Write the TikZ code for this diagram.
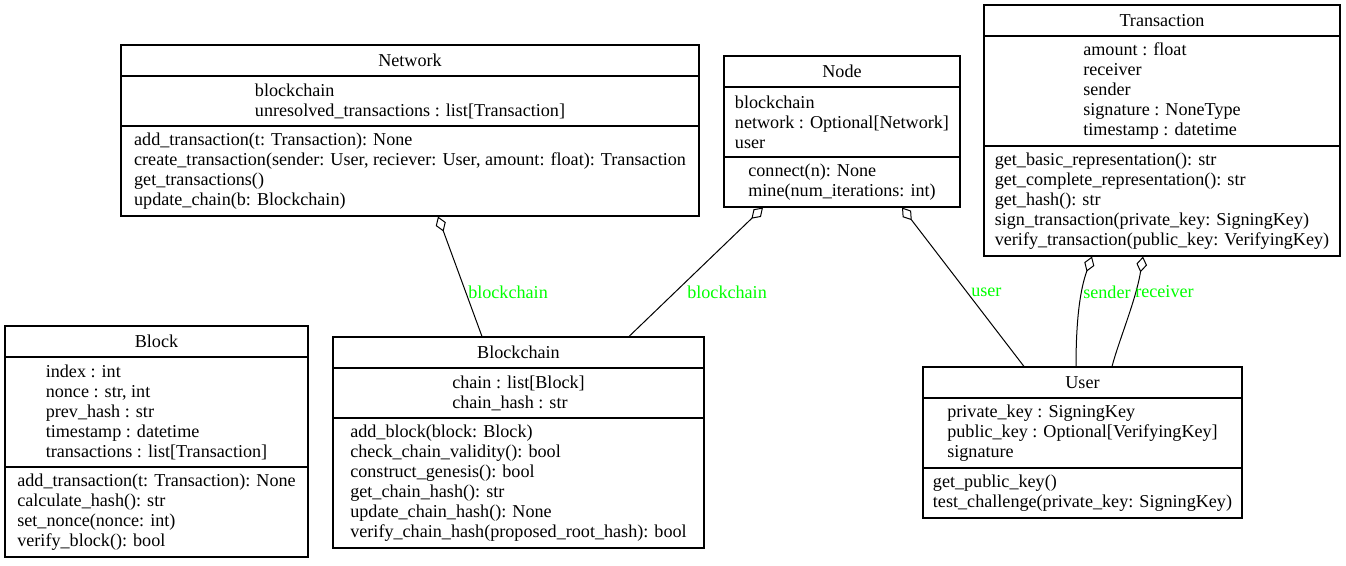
\documentclass[tikz,border=0pt]{standalone}
\usepackage{fontspec}
\setmainfont{Liberation Serif}
\usetikzlibrary{arrows.meta,fit}
\definecolor{lblgreen}{RGB}{0,255,0}
\begin{document}
\begin{tikzpicture}[x=0.75pt,y=-0.75pt,
  cls/.style={draw, inner sep=0pt, line width=0.8pt},
  txt/.style={inner sep=0pt, align=left, font=\fontsize{13.6}{15}\selectfont},
  sepline/.style={line width=0.8pt},
  assoc/.style={line width=0.75pt, {Diamond[open, length=12pt, width=8pt, line width=0.75pt]}-},
  lbl/.style={inner sep=0pt, anchor=west, text=lblgreen, font=\fontsize{13.6}{15}\selectfont}]
\useasboundingbox (0,0) rectangle (1346,565);

% Network
\node[cls, fit={(121,45) (699,216)}] (net) {};
\draw[sepline] (net.west |- 0,76) -- (net.east |- 0,76);
\draw[sepline] (net.west |- 0,126) -- (net.east |- 0,126);
\node[txt] (net-t) at (410,60.5) {Network};
\node[txt] (net-a) at (410,101) {blockchain\\unresolved\_transactions : list[Transaction]};
\node[txt] (net-m) at (410,171) {add\_transaction(t: Transaction): None\\create\_transaction(sender: User, reciever: User, amount: float): Transaction\\get\_transactions()\\update\_chain(b: Blockchain)};

% Node
\node[cls, fit={(724,56) (960,207)}] (nd) {};
\draw[sepline] (nd.west |- 0,87) -- (nd.east |- 0,87);
\draw[sepline] (nd.west |- 0,157) -- (nd.east |- 0,157);
\node[txt] (nd-t) at (842,71.5) {Node};
\node[txt] (nd-a) at (842,122) {blockchain\\network : Optional[Network]\\user};
\node[txt] (nd-m) at (842,182) {connect(n): None\\mine(num\_iterations: int)};

% Transaction
\node[cls, fit={(984,5) (1340,256)}] (tx) {};
\draw[sepline] (tx.west |- 0,36) -- (tx.east |- 0,36);
\draw[sepline] (tx.west |- 0,146) -- (tx.east |- 0,146);
\node[txt] (tx-t) at (1162,20.5) {Transaction};
\node[txt] (tx-a) at (1162,91) {amount : float\\receiver\\sender\\signature : NoneType\\timestamp : datetime};
\node[txt] (tx-m) at (1162,201) {get\_basic\_representation(): str\\get\_complete\_representation(): str\\get\_hash(): str\\sign\_transaction(private\_key: SigningKey)\\verify\_transaction(public\_key: VerifyingKey)};

% Block
\node[cls, fit={(5,326) (308,557)}] (blk) {};
\draw[sepline] (blk.west |- 0,357) -- (blk.east |- 0,357);
\draw[sepline] (blk.west |- 0,467) -- (blk.east |- 0,467);
\node[txt] (blk-t) at (156.5,341.5) {Block};
\node[txt] (blk-a) at (156.5,412) {index : int\\nonce : str, int\\prev\_hash : str\\timestamp : datetime\\transactions : list[Transaction]};
\node[txt] (blk-m) at (156.5,512) {add\_transaction(t: Transaction): None\\calculate\_hash(): str\\set\_nonce(nonce: int)\\verify\_block(): bool};

% Blockchain
\node[cls, fit={(333,337) (704,548)}] (bc) {};
\draw[sepline] (bc.west |- 0,368) -- (bc.east |- 0,368);
\draw[sepline] (bc.west |- 0,418) -- (bc.east |- 0,418);
\node[txt] (bc-t) at (518.5,352.5) {Blockchain};
\node[txt] (bc-a) at (518.5,393) {chain : list[Block]\\chain\_hash : str};
\node[txt] (bc-m) at (518.5,483) {add\_block(block: Block)\\check\_chain\_validity(): bool\\construct\_genesis(): bool\\get\_chain\_hash(): str\\update\_chain\_hash(): None\\verify\_chain\_hash(proposed\_root\_hash): bool};

% User
\node[cls, fit={(923,367) (1242,518)}] (usr) {};
\draw[sepline] (usr.west |- 0,398) -- (usr.east |- 0,398);
\draw[sepline] (usr.west |- 0,468) -- (usr.east |- 0,468);
\node[txt] (usr-t) at (1082.5,382.5) {User};
\node[txt] (usr-a) at (1082.5,433) {private\_key : SigningKey\\public\_key : Optional[VerifyingKey]\\signature};
\node[txt] (usr-m) at (1082.5,493) {get\_public\_key()\\test\_challenge(private\_key: SigningKey)};

% Associations
\draw[assoc] ([xshift=21pt]net.south) -- ([xshift=-27.375pt]bc.north);
\draw[assoc] ([xshift=-59.25pt]nd.south) -- ([xshift=82.875pt]bc.north);
\draw[assoc] ([xshift=45pt]nd.south) -- ([xshift=-43.875pt]usr.north);
\draw[assoc] ([xshift=-52.5pt]tx.south) .. controls (1080,290) and (1076,320) .. ([xshift=-4.875pt]usr.north);
\draw[assoc] ([xshift=-14.25pt]tx.south) .. controls (1136,300) and (1119,340) .. ([xshift=22.125pt]usr.north);

% Labels
\node[lbl] (l1) at (468,292) {blockchain};
\node[lbl] (l2) at (687,292) {blockchain};
\node[lbl] (l3) at (971,292) {user};
\node[lbl] (l4) at (1083,292) {sender};
\node[lbl] (l5) at (1135,292) {receiver};
\end{tikzpicture}
\end{document}
